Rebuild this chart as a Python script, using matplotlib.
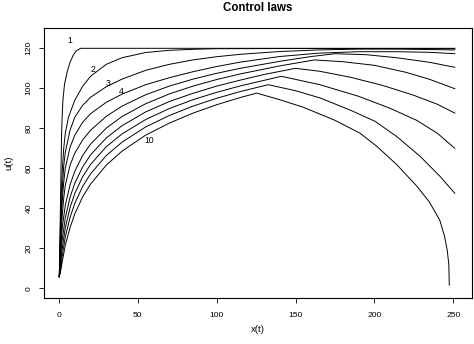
import matplotlib
matplotlib.use("Agg")
from matplotlib import pyplot as plt

plt.rcParams['font.family'] = ['Liberation Sans', 'DejaVu Sans']

# curves, one per control law
x_c1 = [0.2, 0.6, 1.0, 1.3, 1.6, 2.0, 2.5, 3.5, 5.3, 7, 9, 11, 13.7, 251]
u_c1 = [5.8, 25, 45, 60, 75, 86, 94, 102, 108.6, 113, 116.5, 118.8, 120, 120]

x_c2 = [0.2, 0.6, 1, 1.5, 2, 3, 4, 6, 10, 15, 20, 30, 40, 55, 70, 85, 100, 150, 200, 251]
u_c2 = [5.8, 20, 34, 48, 58, 70, 77.5, 85.5, 94, 101, 106, 112, 115.3, 117.9, 119, 119.5, 119.8, 119.9, 119.9, 119.8]

x_c3 = [0.2, 0.6, 1, 1.5, 2, 3, 4, 7, 10, 15, 20, 30, 40, 55, 70, 85, 100, 115, 140, 165, 190, 215, 251]
u_c3 = [5.8, 17, 28, 40, 49, 61, 68, 79, 85.5, 91.5, 95.5, 100.8, 104.6, 109, 112, 114.2, 115.8, 117, 118.4, 119.2,
        119.6, 119.6, 119.2]

x_c4 = [0.2, 0.6, 1, 1.5, 2, 3, 4, 7, 10, 15, 20, 30, 40, 55, 70, 85, 100, 115, 140, 165, 190, 215, 235, 251]
u_c4 = [5.8, 15, 25, 35, 43, 53, 60, 70.5, 76.5, 83, 87.3, 93, 97.1, 101.8, 105.3, 108.3, 110.9, 113.1, 115.9, 117.6,
        118.3, 118.3, 118, 117.3]

x_c5 = [0.2, 0.6, 1, 2, 3, 4, 7, 10, 15, 20, 30, 40, 55, 70, 85, 100, 115, 140, 160, 175, 195, 215, 235, 251]
u_c5 = [5.8, 12, 21, 36, 45, 51.5, 61.5, 67.5, 74.2, 79, 86, 91.1, 96.8, 101.1, 104.6, 107.5, 110, 113.5, 115.9, 117.3,
        116.8, 115.2, 113, 110.5]

x_c6 = [0.2, 1, 2, 4, 7, 10, 15, 20, 30, 40, 55, 70, 85, 100, 115, 140, 162, 180, 200, 220, 235, 251]
u_c6 = [5.8, 18, 29.9, 41.5, 51.7, 58.5, 66.4, 72.1, 80.1, 85.9, 92.3, 97.2, 101.1, 104.4, 107.2, 111.2, 114.2, 113.3,
        111.5, 108, 104.5, 99.8]

x_c7 = [0.2, 1, 2, 4, 7, 10, 15, 20, 30, 40, 55, 70, 85, 100, 115, 130, 150, 165.5, 185, 205, 225, 240, 251]
u_c7 = [5.8, 15.2, 24.1, 35.2, 45.5, 52.5, 60.7, 66.7, 75.2, 81.3, 88.2, 93.4, 97.5, 101.1, 104.1, 106.9, 110, 108.5,
        105.5, 101.5, 96.5, 92, 87.6]

x_c8 = [0.2, 1, 2, 4, 7, 10, 15, 20, 30, 40, 55, 70, 85, 100, 115, 141, 165.5, 190, 210, 226.8, 240, 251]
u_c8 = [5.8, 11.9, 19.7, 30.2, 40.3, 47.4, 55.8, 61.9, 70.8, 77.2, 84.4, 89.9, 94.3, 98, 101.2, 106, 101.8, 96, 90,
        84, 77.5, 70]

x_c9 = [0.2, 1, 2, 4, 7, 10, 15, 20, 30, 40, 55, 70, 85, 100, 115, 132.7, 150, 165.5, 185, 200.4, 214, 229, 241.6, 251]
u_c9 = [5.8, 9.3, 16, 25.7, 35.4, 42.4, 50.9, 57.2, 66.4, 73.1, 80.7, 86.4, 91.1, 95, 98.4, 101.8, 98.8, 95.2, 89,
        83.5, 76, 66, 56, 47.5]

x_c10 = [0.2, 1, 2, 4, 7, 10, 15, 20, 30, 40, 55, 70, 85, 100, 115, 125.4, 140, 155, 175, 191,
         201.5, 214, 227, 235, 241.5, 244.5, 246.2, 247.2, 247.5]
u_c10 = [5.8, 8.5, 13, 21.5, 30.3, 37.2, 45.7, 52.1, 61.6, 68.6, 76.6, 82.6, 87.6, 91.8, 95.4, 97.6, 94.3, 90.5, 84,
         77.5, 71, 62, 51, 43, 34, 26, 19, 12, 1.6]

# curve labels and where they sit
label_text = ['1', '2', '3', '4', '10']
label_x = [6.8, 21.6, 31.3, 39.5, 57.3]
label_u = [124, 109.3, 102.6, 98.2, 73.8]

xs = [x_c1, x_c2, x_c3, x_c4, x_c5, x_c6, x_c7, x_c8, x_c9, x_c10]
us = [u_c1, u_c2, u_c3, u_c4, u_c5, u_c6, u_c7, u_c8, u_c9, u_c10]

fig = plt.figure(figsize=(4.74, 3.44), dpi=100)
ax = fig.add_axes([0.0935, 0.1346, 0.9016, 0.7831])

for x, u in zip(xs, us):
    ax.plot(x, u, color='black', lw=0.7)

for t, lx, lu in zip(label_text, label_x, label_u):
    ax.text(lx, lu, t, fontsize=6.2, ha='center', va='center')

ax.set_xlim(-9.3, 261.7)
ax.set_ylim(-4.7, 130)
ax.set_xticks([0, 50, 100, 150, 200, 250])
ax.set_yticks([0, 20, 40, 60, 80, 100, 120])
ax.tick_params(direction='out', length=3.6, width=0.6, labelsize=6.1, pad=6.8)
ax.tick_params(axis='y', labelrotation=90, pad=4.8)
for lbl in ax.get_yticklabels():
    lbl.set_va('center')
for s in ax.spines.values():
    s.set_linewidth(0.8)

fig.text(0.544, 0.977, 'Control laws', fontsize=8.3, fontweight='bold', ha='center', va='center')
fig.text(0.544, 0.041, 'x(t)', fontsize=6.8, ha='center', va='center')
fig.text(0.019, 0.526, 'u(t)', fontsize=6.8, ha='center', va='center', rotation=90)

fig.savefig('out.png', dpi=100)
